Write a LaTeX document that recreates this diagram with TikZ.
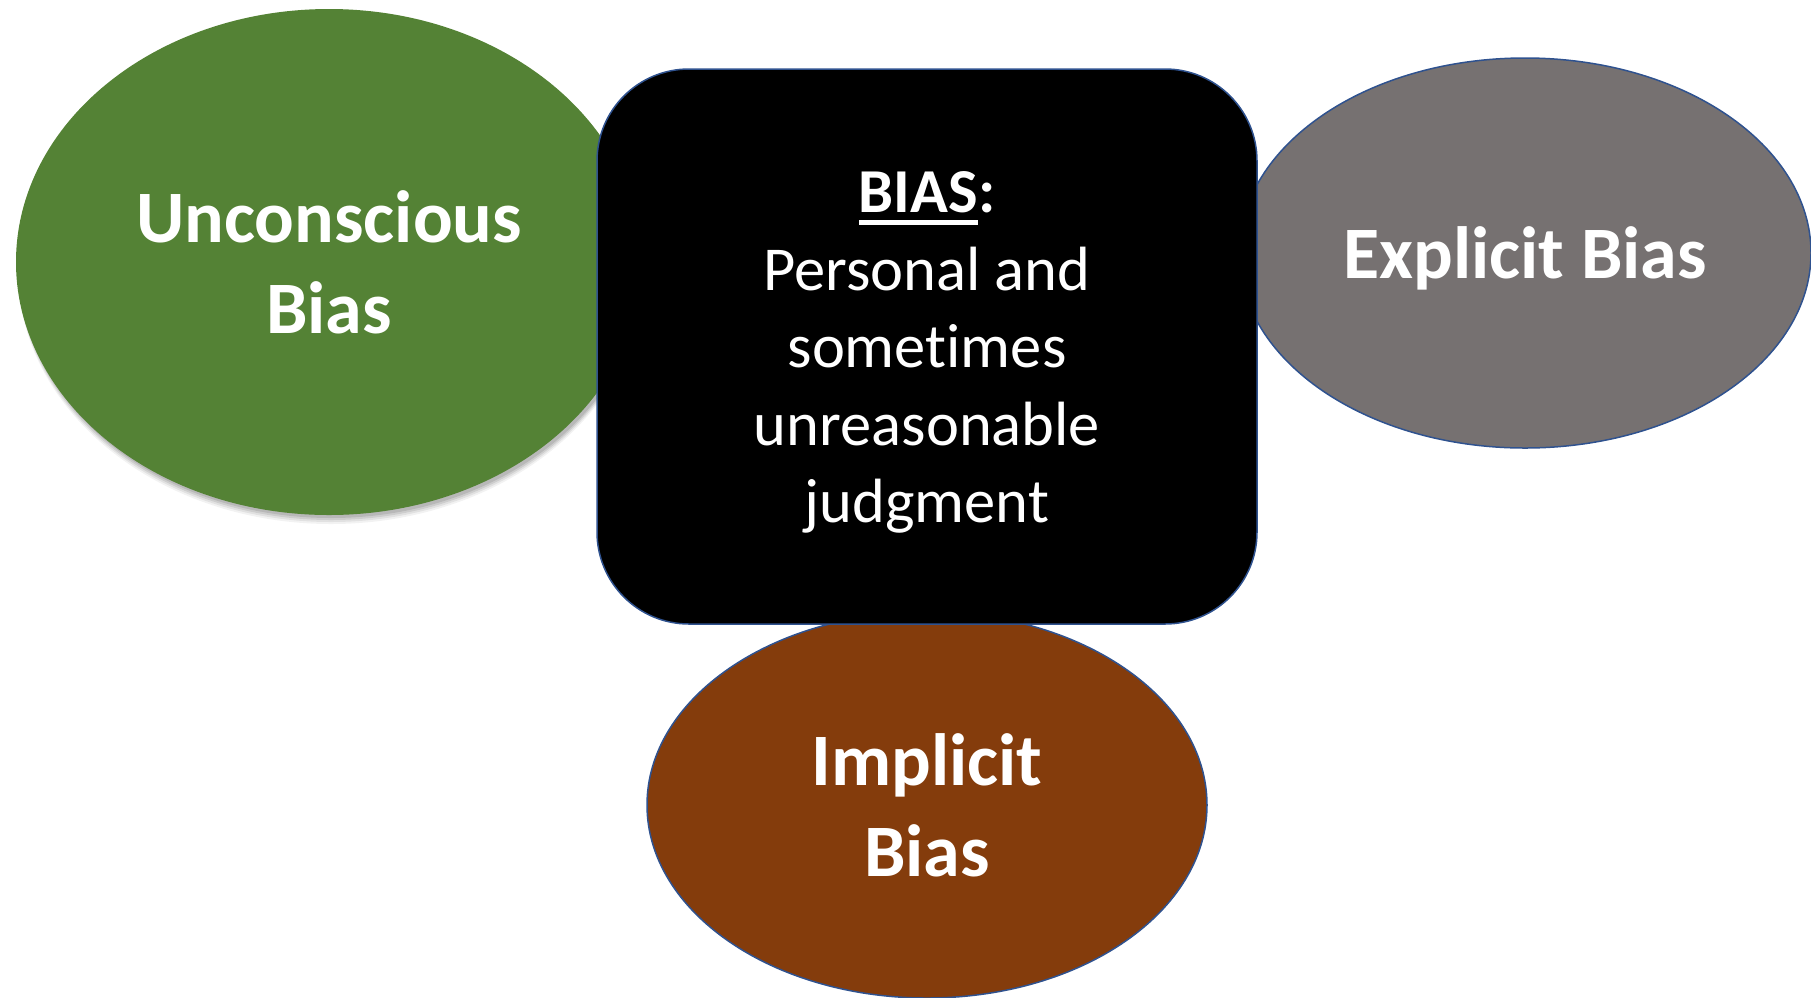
\documentclass[tikz,border=0pt]{standalone}
\usepackage{fontspec}
\setmainfont{Carlito}[Ligatures=NoCommon]
\usetikzlibrary{shapes.geometric,shadows}
\definecolor{bgreen}{HTML}{548235}
\definecolor{bgray}{HTML}{767171}
\definecolor{bbrown}{HTML}{843C0C}
\definecolor{bline}{HTML}{2F528F}
\newcommand\myul[1]{\setbox0\hbox{#1}\rlap{\rule[-0.2em]{\wd0}{0.09em}}\box0}
\begin{document}
\begin{tikzpicture}[x=1pt,y=-1pt,
  bubble/.style={ellipse, inner sep=0pt, text=white, align=center,
    font=\fontsize{74}{91}\selectfont\bfseries},
  bubbletext/.style={inner sep=0pt, text=white, align=center,
    font=\fontsize{74}{91}\selectfont\bfseries},
  outlined/.style={draw=bline, line width=1.5pt},
  centerbox/.style={rectangle, rounded corners=92pt, fill=black, outlined,
    inner sep=0pt},
  boxtext/.style={inner sep=0pt, text=white, align=center,
    font=\fontsize{62.5}{77.5}\selectfont}]
\useasboundingbox (0,0) rectangle (1811,997);
\foreach \s/\o in {9/0.05,7/0.07,5/0.09,3/0.1}{
  \fill[black, opacity=\o] (331,262+\s) ellipse (313 and 253);
}
\node[bubble, fill=bgreen, minimum width=626pt, minimum height=506pt] (unc) at (329,262) {Unconscious\\Bias};
\node[bubble, fill=bgray, outlined, minimum width=572pt, minimum height=390pt] (exp) at (1525,253) {};
\node[bubbletext] (exptext) at ([yshift=-5pt]exp.center) {Explicit Bias};
\node[bubble, fill=bbrown, outlined, minimum width=560pt, minimum height=386pt] (imp) at (927,805) {Implicit\\Bias};
\node[centerbox, minimum width=660pt, minimum height=555pt] (bias) at (927,346.5) {};
\node[boxtext] (biastext) at ([yshift=-6pt]bias.center)
  {\textbf{\myul{BIAS}:}\\Personal and\\sometimes\\unreasonable\\judgment};
\end{tikzpicture}
\end{document}
